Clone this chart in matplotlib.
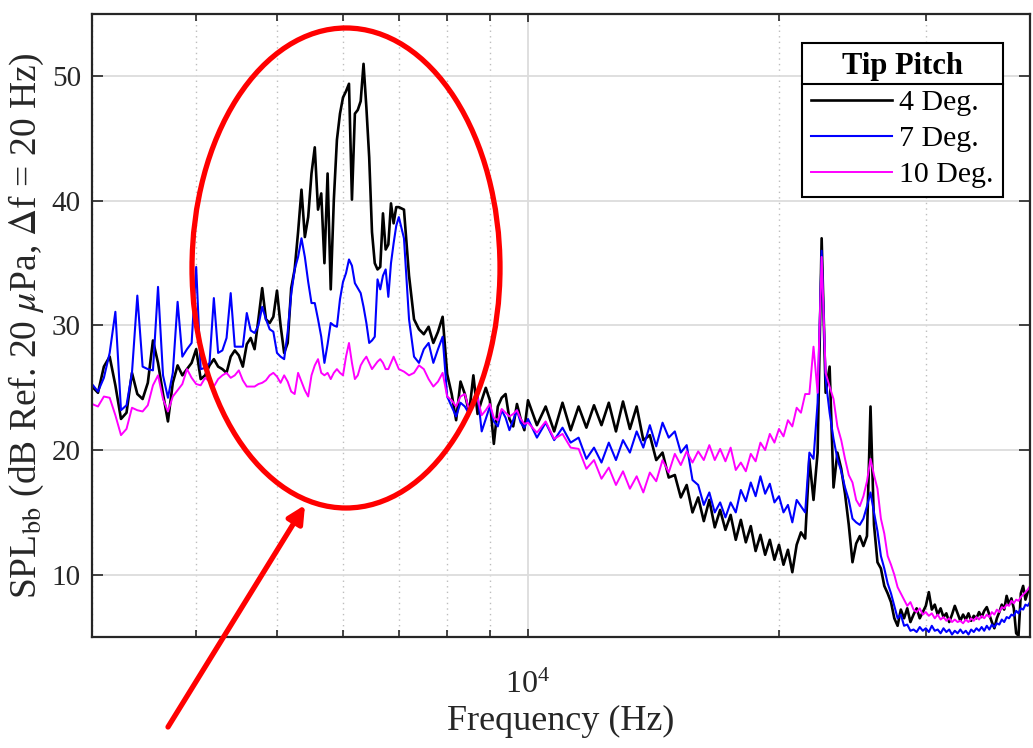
import numpy as np
import matplotlib
matplotlib.use('Agg')
import matplotlib.pyplot as plt
from matplotlib.ticker import FixedLocator, NullFormatter
from matplotlib.patches import Ellipse, FancyArrowPatch
from matplotlib.lines import Line2D

plt.rcParams['font.family'] = ['Liberation Serif', 'DejaVu Serif']
plt.rcParams['mathtext.fontset'] = 'stix'

# Broadband SPL spectra for three tip pitch angles
freq_hz = [
    3000, 3050, 3100, 3150, 3200, 3250, 3300, 3350, 3400, 3450,
    3500, 3550, 3600, 3650, 3700, 3750, 3800, 3850, 3900, 3950,
    4000, 4050, 4100, 4150, 4200, 4250, 4300, 4350, 4400, 4450,
    4500, 4550, 4600, 4650, 4700, 4750, 4800, 4850, 4900, 4950,
    5000, 5050, 5100, 5150, 5200, 5250, 5300, 5350, 5400, 5450,
    5500, 5550, 5600, 5650, 5700, 5750, 5800, 5850, 5900, 5950,
    6000, 6050, 6100, 6150, 6200, 6250, 6300, 6350, 6400, 6450,
    6500, 6550, 6600, 6650, 6700, 6750, 6800, 6850, 6900, 6950,
    7000, 7100, 7200, 7300, 7400, 7500, 7600, 7700, 7800, 7900,
    8000, 8100, 8200, 8300, 8400, 8500, 8600, 8700, 8800, 8900,
    9000, 9100, 9200, 9300, 9400, 9500, 9600, 9700, 9800, 9900,
    10000, 10250, 10500, 10750, 11000, 11250, 11500, 11750, 12000, 12250,
    12500, 12750, 13000, 13250, 13500, 13750, 14000, 14250, 14500, 14750,
    15000, 15250, 15500, 15750, 16000, 16250, 16500, 16750, 17000, 17250,
    17500, 17750, 18000, 18250, 18500, 18750, 19000, 19250, 19500, 19750,
    20000, 20250, 20500, 20750, 21000, 21250, 21500, 21750, 22000, 22250,
    22500, 22750, 23000, 23250, 23500, 23750, 24000, 24250, 24500, 24750,
    25000, 25250, 25500, 25750, 26000, 26250, 26500, 26750, 27000, 27250,
    27500, 27750, 28000, 28250, 28500, 28750, 29000, 29250, 29500, 29750,
    30000, 30250, 30500, 30750, 31000, 31250, 31500, 31750, 32000, 32250,
    32500, 32750, 33000, 33250, 33500, 33750, 34000, 34250, 34500, 34750,
    35000, 35250, 35500, 35750, 36000, 36250, 36500, 36750, 37000, 37250,
    37500, 37750, 38000, 38250, 38500, 38750, 39000, 39250, 39500, 39750,
    40000,
]

spl_4deg = [
    25.1, 24.6, 26.7, 27.5, 25.2, 22.5, 23.0, 26.2, 24.5, 24.1,
    25.4, 28.8, 27.0, 24.5, 22.3, 25.4, 26.8, 26.0, 26.5, 27.0,
    28.1, 25.7, 26.0, 26.8, 27.3, 26.7, 26.5, 26.2, 27.5, 28.0,
    27.6, 26.7, 28.5, 29.0, 28.1, 30.5, 33.0, 30.5, 30.2, 30.7,
    32.8, 30.0, 27.8, 28.6, 33.0, 34.5, 37.5, 40.9, 37.1, 38.7,
    42.2, 44.3, 39.3, 40.6, 35.0, 42.2, 32.9, 40.1, 44.9, 47.0,
    48.3, 48.8, 49.4, 40.1, 47.0, 47.3, 48.0, 51.0, 47.5, 43.5,
    37.5, 35.0, 34.5, 34.7, 39.0, 36.1, 36.5, 39.8, 38.2, 39.5,
    39.5, 39.3, 34.0, 30.5, 29.7, 29.3, 29.9, 28.6, 29.5, 30.7,
    26.1, 24.5, 22.4, 25.5, 24.5, 23.0, 26.0, 22.9, 24.0, 25.0,
    24.0, 20.5, 23.5, 24.2, 24.5, 22.5, 21.9, 23.7, 22.5, 21.6,
    24.0, 22.0, 23.5, 21.5, 23.8, 21.6, 23.5, 21.8, 23.6, 22.0,
    23.8, 21.5, 23.9, 21.7, 23.5, 20.8, 21.2, 19.2, 19.8, 17.8,
    18.0, 16.2, 17.2, 15.0, 16.2, 14.3, 16.0, 13.8, 15.2, 13.6,
    14.8, 12.8, 14.4, 12.6, 13.9, 11.9, 13.2, 11.6, 12.8, 11.2,
    12.4, 10.8, 12.0, 10.2, 12.4, 13.4, 12.9, 19.3, 16.0, 19.8,
    37.0, 24.6, 26.7, 17.0, 19.8, 18.5, 16.5, 14.0, 11.0, 12.5,
    13.1, 12.3, 13.1, 23.5, 14.0, 11.0, 10.5, 9.1, 8.5, 7.8,
    6.5, 5.9, 7.2, 6.5, 7.3, 6.2, 6.8, 7.3, 6.5, 7.0,
    7.5, 8.6, 7.2, 7.6, 6.8, 7.3, 6.6, 6.9, 6.2, 6.8,
    7.5, 6.9, 6.3, 6.8, 6.4, 6.9, 6.3, 6.7, 6.5, 7.0,
    6.6, 7.1, 7.4, 6.8, 6.2, 5.7, 6.5, 7.0, 7.6, 7.2,
    8.3, 7.6, 8.1, 7.3, 5.3, 5.1, 8.5, 9.1, 8.0, 8.6,
    8.9,
]

spl_7deg = [
    25.3, 24.7, 25.8, 27.8, 31.1, 23.2, 23.6, 26.2, 32.4, 26.7,
    26.5, 26.4, 33.1, 26.0, 24.2, 26.2, 31.9, 27.5, 28.1, 28.6,
    34.7, 26.5, 26.6, 27.0, 32.2, 27.8, 28.0, 29.0, 32.6, 28.3,
    28.3, 28.3, 31.0, 29.6, 29.4, 30.0, 31.5, 30.5, 29.7, 29.5,
    27.8, 27.5, 27.3, 29.5, 32.5, 34.5, 35.5, 37.0, 35.5, 33.5,
    31.8, 31.8, 30.5, 29.1, 27.0, 28.5, 30.2, 30.0, 29.9, 32.1,
    33.5, 34.2, 35.3, 34.8, 33.4, 33.0, 32.6, 31.5, 30.2, 28.6,
    28.8, 29.1, 33.7, 32.9, 34.0, 34.5, 32.3, 35.0, 36.6, 38.0,
    38.7, 37.0, 30.5, 27.5, 27.0, 28.1, 28.6, 27.0, 28.1, 29.1,
    24.3, 23.5, 22.7, 23.8, 23.5, 22.9, 23.8, 24.5, 21.5, 22.5,
    23.5, 22.3, 21.9, 23.2, 22.6, 21.6, 22.4, 23.2, 22.2, 21.8,
    22.5, 21.0, 22.2, 20.8, 21.8, 20.6, 21.0, 19.3, 20.2, 19.0,
    20.6, 19.2, 20.8, 19.8, 21.5, 20.2, 22.0, 20.3, 22.2, 21.0,
    21.5, 19.8, 20.4, 17.6, 17.2, 15.6, 16.6, 15.0, 15.8, 14.6,
    15.8, 15.0, 16.8, 15.9, 17.4, 16.3, 17.9, 16.5, 17.3, 15.8,
    16.3, 15.0, 15.6, 14.2, 16.0, 15.5, 15.0, 19.8, 19.3, 23.8,
    36.0, 25.7, 23.0, 20.9, 19.3, 18.3, 17.0, 16.0, 14.5, 14.2,
    14.0, 14.5, 15.5, 16.6, 15.0, 13.5, 11.5, 10.5, 9.3, 8.5,
    7.5, 6.5, 6.8, 5.9, 6.0, 5.5, 5.6, 5.4, 5.8, 5.5,
    5.7, 5.4, 5.9, 5.5, 5.6, 5.3, 5.7, 5.4, 5.6, 5.2,
    5.5, 5.3, 5.6, 5.3, 5.5, 5.2, 5.6, 5.4, 5.7, 5.5,
    5.8, 5.5, 5.9, 5.6, 6.0, 5.8, 6.1, 6.0, 6.4, 6.2,
    6.6, 6.5, 6.8, 6.7, 7.1, 6.9, 7.3, 7.2, 7.6, 7.5,
    7.8,
]

spl_10deg = [
    23.7, 23.5, 24.3, 24.2, 22.8, 21.2, 21.7, 23.4, 23.2, 23.1,
    23.6, 25.2, 26.0, 24.1, 23.1, 24.3, 24.8, 25.3, 26.5, 25.8,
    25.3, 25.2, 25.8, 25.5, 25.1, 25.7, 26.0, 26.2, 25.8, 26.0,
    26.4, 25.6, 25.1, 25.1, 25.1, 25.3, 25.4, 25.6, 26.0, 26.2,
    25.9, 25.4, 26.0, 25.5, 24.7, 24.5, 26.2, 25.5, 24.8, 24.3,
    26.0, 26.8, 27.3, 26.2, 26.0, 26.2, 25.7, 26.2, 26.5, 26.2,
    26.0, 27.5, 28.6, 27.0, 25.7, 26.0, 26.8, 27.2, 27.5, 27.0,
    26.5, 26.8, 27.1, 27.3, 27.0, 26.5, 26.5, 27.0, 27.5, 27.0,
    26.5, 26.3, 26.0, 26.2, 26.8, 26.5, 25.7, 25.1, 25.5, 26.2,
    24.3, 24.0, 23.5, 24.3, 24.5, 23.2, 23.8, 24.2, 22.8, 23.2,
    23.7, 22.6, 22.4, 23.3, 23.0, 22.7, 22.9, 23.2, 22.5, 22.1,
    22.2, 21.4, 22.3, 20.9, 21.3, 20.2, 20.1, 18.5, 19.2, 17.7,
    18.6, 17.2, 18.3, 16.9, 17.9, 16.6, 18.2, 17.5, 19.2, 18.2,
    19.7, 18.8, 19.9, 19.0, 19.9, 19.2, 20.4, 19.2, 20.1, 19.1,
    20.2, 18.4, 19.0, 18.3, 19.7, 19.1, 20.6, 20.0, 21.3, 20.6,
    21.7, 21.1, 22.4, 21.9, 23.4, 23.0, 24.5, 24.5, 28.3, 24.6,
    35.5, 26.2, 25.1, 24.1, 21.9, 20.8, 19.3, 18.0, 17.4, 16.0,
    15.5, 16.3, 17.5, 19.3, 18.0, 16.9, 14.5, 13.3, 11.5, 10.8,
    10.0, 9.0, 8.5, 8.0, 7.5, 7.8, 7.2, 7.0, 7.3, 6.8,
    7.0, 6.7, 6.9, 6.5, 6.8, 6.4, 6.6, 6.3, 6.5, 6.2,
    6.4, 6.2, 6.3, 6.1, 6.4, 6.2, 6.5, 6.3, 6.6, 6.4,
    6.7, 6.5, 6.8, 6.6, 7.0, 6.8, 7.2, 7.0, 7.4, 7.3,
    7.6, 7.5, 7.9, 7.7, 8.0, 7.9, 8.2, 8.4, 8.6, 8.8,
    9.1,
]

series_labels = ['4 Deg.', '7 Deg.', '10 Deg.']
y_ticks = [10, 20, 30, 40, 50]
x_major = [1e4]
x_minor = [3000, 4000, 5000, 6000, 7000, 8000, 9000, 20000, 30000, 40000]

W, H = 1033, 748
fig = plt.figure(figsize=(W / 100, H / 100), dpi=100)
ax = fig.add_axes([92 / W, 1 - 637 / H, (1030 - 92) / W, (637 - 14) / H])

ax.plot(freq_hz, spl_4deg, color='black', lw=1.9, label=series_labels[0])
ax.plot(freq_hz, spl_7deg, color='#0000ff', lw=1.5, label=series_labels[1])
ax.plot(freq_hz, spl_10deg, color='#ff00ff', lw=1.4, label=series_labels[2])

ax.set_xscale('log')
ax.set_xlim(3000, 40000)
ax.set_ylim(5, 55)
ax.set_yticks(y_ticks)
ax.xaxis.set_major_locator(FixedLocator(x_major))
ax.xaxis.set_minor_locator(FixedLocator(x_minor))
ax.xaxis.set_minor_formatter(NullFormatter())

ax.set_axisbelow(True)
ax.grid(True, which='major', axis='both', color='#dcdcdc', lw=1.3, ls='-')
ax.grid(True, which='minor', axis='x', color='#bdbdbd', lw=1.0, ls=(0, (1, 3)))

ax.tick_params(which='both', direction='in', top=True, right=True,
               color='#262626', width=1.2, labelcolor='#262626')
ax.tick_params(axis='y', which='major', length=8, pad=8, labelsize=21)
ax.tick_params(axis='x', which='major', length=6, pad=24, labelsize=23)
ax.tick_params(axis='x', which='minor', length=5)
for sp in ax.spines.values():
    sp.set_linewidth(1.6)
    sp.set_color('#262626')

ax.set_xlabel('Frequency (Hz)', fontsize=26, color='#262626', labelpad=4)
ax.set_ylabel(r'SPL$_{\rm bb}$ (dB Ref. 20 $\mu$Pa, $\Delta$f = 20 Hz)',
              fontsize=27, color='#262626', labelpad=4)

leg = ax.legend(title='Tip Pitch', loc='upper right', bbox_to_anchor=(0.971, 0.954),
                borderaxespad=0, fancybox=False, framealpha=1, edgecolor='black',
                fontsize=21.5, title_fontproperties={'weight': 'bold', 'size': 22},
                handlelength=2.7, handletextpad=0.25, labelspacing=0.3, borderpad=0.3)
leg.get_frame().set_linewidth(1.5)

# rule under the legend title
fig.canvas.draw()
r = fig.canvas.get_renderer()
fb = leg.get_frame().get_window_extent(r)
tb = leg.get_title().get_window_extent(r)
y_sep = tb.y0 - 3
fig.add_artist(Line2D([fb.x0 / W, fb.x1 / W], [y_sep / H, y_sep / H],
                      transform=fig.transFigure, color='black', lw=1.5))

# highlight around the 5-7 kHz hump
fig.add_artist(Ellipse((346 / W, 1 - 268 / H), 308 / W, 480 / H,
                       transform=fig.transFigure, fill=False, ec='#ff0000', lw=3.8))
fig.add_artist(FancyArrowPatch((168 / W, 1 - 727 / H), (305 / W, 1 - 505 / H),
                               transform=fig.transFigure, arrowstyle='-|>',
                               mutation_scale=26, color='#ff0000', lw=3.8,
                               shrinkA=0, shrinkB=0))

fig.savefig('out.png', dpi=100)
